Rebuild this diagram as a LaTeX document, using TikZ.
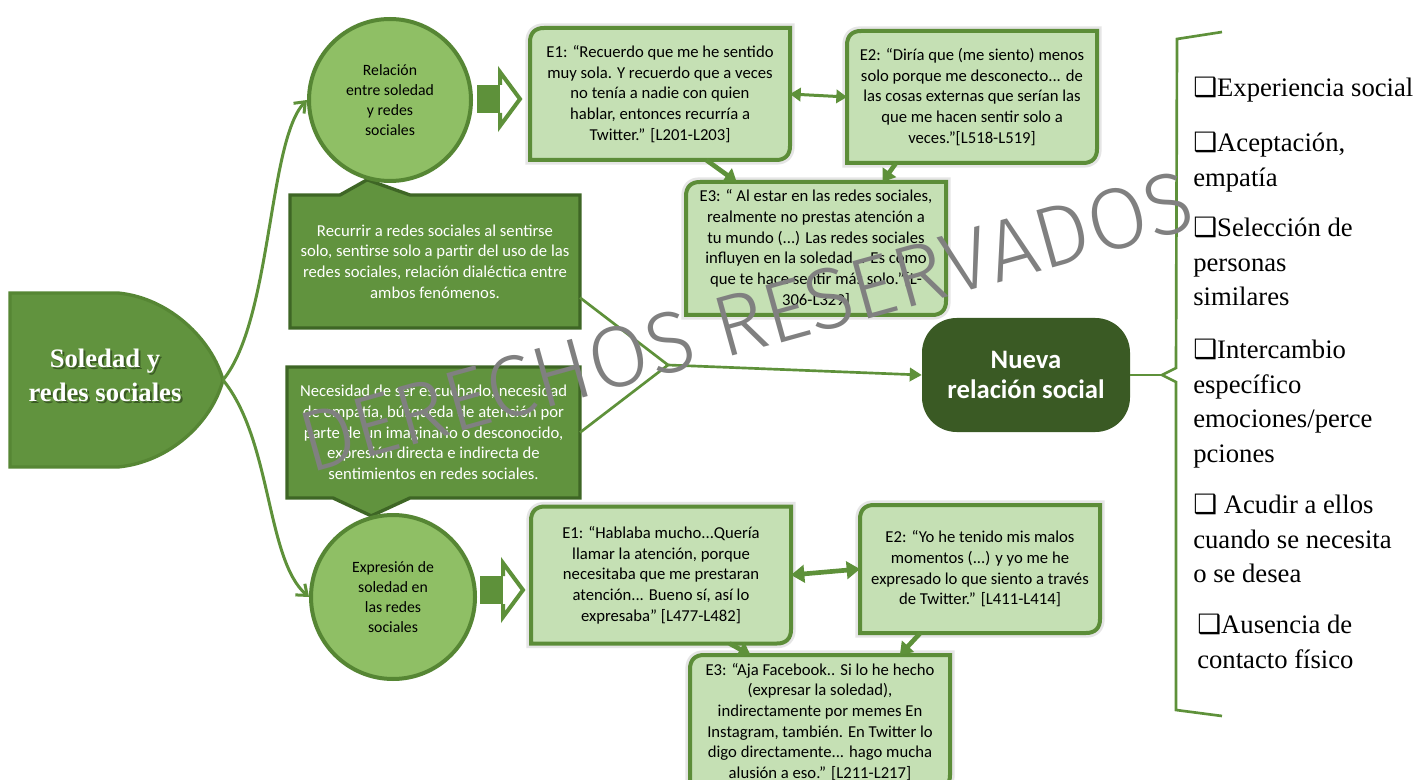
\documentclass[tikz,border=0pt]{standalone}
\usepackage{fontspec}
\setmainfont{Carlito}
\newfontfamily\serifbody{Liberation Serif}
\newfontfamily\symbfont{DejaVu Sans}
\IfFontExistsTF{Fira Sans Light}{\newfontfamily\markfont{Fira Sans Light}\def\marksize{65}}{\newfontfamily\markfont{Carlito}\def\marksize{72}}
\usetikzlibrary{arrows.meta,calc,backgrounds}
\definecolor{boxgreen}{RGB}{97,147,62}
\definecolor{boxedge}{RGB}{62,102,37}
\definecolor{circfill}{RGB}{143,191,101}
\definecolor{circedge}{RGB}{86,134,52}
\definecolor{quotefill}{RGB}{197,224,180}
\definecolor{quoteedge}{RGB}{92,141,56}
\definecolor{linkgreen}{RGB}{94,145,58}
\definecolor{darkgreen}{RGB}{58,90,36}
\definecolor{markgray}{RGB}{128,128,128}

\newcommand{\sqbox}{\strut{\symbfont ❑}}
% frame with two rounded corners (top left, bottom right)
\newcommand{\quoteframe}[1]{%
  \draw[qframe] ($(#1.north west)+(0,14)$) .. controls ($(#1.north west)+(0,5)$) and ($(#1.north west)+(5,0)$) .. ($(#1.north west)+(14,0)$) -- (#1.north east) -- ($(#1.south east)+(0,-14)$) .. controls ($(#1.south east)+(0,-5)$) and ($(#1.south east)+(-5,0)$) .. ($(#1.south east)+(-14,0)$) -- (#1.south west) -- cycle;}
% block arrow, solid shaft and hollow head
\newcommand{\blockarrow}[2]{%
  \fill[linkgreen] (#1,#2-14) rectangle (#1+23,#2+14);
  \draw[linkgreen, line width=3pt, fill=white, line join=miter] (#1+23,#2-14) -- (#1+23,#2-27) -- (#1+43,#2) -- (#1+23,#2+27) -- (#1+23,#2+14);}

\begin{document}
\begin{tikzpicture}[x=0.75pt,y=0.75pt,yscale=-1,xscale=1,
  quote/.style={align=center, inner sep=0pt, outer sep=0pt, font=\fontsize{12.5}{15.5}\selectfont},
  qframe/.style={draw=quoteedge, fill=quotefill, line width=3pt, preaction={draw=black!10, line width=7pt}},
  callout/.style={draw=boxedge, fill=boxgreen, line width=2.5pt, line join=miter},
  calltext/.style={align=center, text=white, inner sep=0pt, outer sep=0pt, font=\fontsize{12.5}{15.5}\selectfont},
  theme/.style={circle, draw=circedge, fill=circfill, line width=3pt, inner sep=0pt, align=center, font=\fontsize{11.8}{15}\selectfont},
  hub/.style={draw=circedge, fill=boxgreen, line width=2.5pt},
  hubtext/.style={align=center, inner sep=0pt, font=\serifbody\bfseries\fontsize{20}{25.5}\selectfont},
  nuevo/.style={fill=darkgreen, rounded corners=26pt, minimum width=156pt, minimum height=85.5pt, align=center, text=white, font=\bfseries\fontsize{20}{22.5}\selectfont},
  link/.style={draw=linkgreen, line width=2.25pt},
  flow/.style={draw=linkgreen, line width=3.5pt, -{Triangle[length=9pt,width=12pt]}},
  item/.style={anchor=north west, align=left, inner sep=0pt, font=\serifbody\fontsize{20}{26}\selectfont},
  watermark/.style={text=markgray, font=\markfont\fontsize{\marksize}{\marksize}\selectfont, rotate=15.5, inner sep=0pt}
]
\useasboundingbox (0,0) rectangle (1416,780);

% Main topic
\coordinate (tip) at (223,380);
\node[hubtext, text=darkgreen] (soledadsh) at (107,377) {Soledad y\\redes sociales};
\node[hubtext, text=white] (soledad) at (105,375) {Soledad y\\redes sociales};

% Themes
\node[theme, minimum size=121.5pt] (rel) at (390,100) {Relación\\entre soledad\\y redes\\sociales};
\node[theme, minimum size=123pt] (exp) at (393,597) {Expresión de\\soledad en\\las redes\\sociales};

% Callouts
\node[calltext, minimum width=217.5pt, minimum height=99.75pt] (rec1) at (435,261.5) {Recurrir a redes sociales al sentirse\\solo, sentirse solo a partir del uso de las\\redes sociales, relación dialéctica entre\\ambos fenómenos.};
\node[calltext, minimum width=219.75pt, minimum height=98.25pt] (rec2) at (433.5,432.5) {Necesidad de ser escuchado, necesidad\\de empatía, búsqueda de atención por\\parte de un imaginario o desconocido,\\expresión directa e indirecta de\\sentimientos en redes sociales.};

% Quotes, upper group
\node[quote, minimum width=195pt, minimum height=99pt] (e1) at (660,94) {E1: “Recuerdo que me he sentido\\muy sola. Y recuerdo que a veces\\no tenía a nadie con quien\\hablar, entonces recurría a\\Twitter.” [L201-L203]};
\node[quote, minimum width=187.5pt, minimum height=99pt] (e2) at (972,97) {E2: “Diría que (me siento) menos\\solo porque me desconecto... de\\las cosas externas que serían las\\que me hacen sentir solo a\\veces.”[L518-L519]};
\node[quote, minimum width=195pt, minimum height=99.75pt] (e3) at (816,248.5) {E3: “ Al estar en las redes sociales,\\realmente no prestas atención a\\tu mundo (...) Las redes sociales\\influyen en la soledad... Es como\\que te hace sentir más solo.”[L-\\306-L329]};

% Quotes, lower group
\node[quote, minimum width=195pt, minimum height=102.75pt] (e1b) at (661,575) {E1: “Hablaba mucho...Quería\\llamar la atención, porque\\necesitaba que me prestaran\\atención... Bueno sí, así lo\\expresaba” [L477-L482]};
\node[quote, minimum width=180pt, minimum height=96pt] (e2b) at (980,569) {E2: “Yo he tenido mis malos\\momentos (...) y yo me he\\expresado lo que siento a través\\de Twitter.” [L411-L414]};
\node[quote, minimum width=195pt, minimum height=100.5pt] (e3b) at (820,722) {E3: “Aja Facebook.. Si lo he hecho\\(expresar la soledad),\\indirectamente por memes En\\Instagram, también. En Twitter lo\\digo directamente... hago mucha\\alusión a eso.” [L211-L217]};

% Result
\node[nuevo] (nueva) at (1026,375) {Nueva\\relación social};

% Shapes behind the texts
\begin{scope}[on background layer]
\fill[white] (0,0) rectangle (1416,780);
\draw[hub] (10,293) -- (118,293) .. controls (170,298) and (212,340) .. (tip) .. controls (212,422) and (170,462) .. (118,467) -- (10,467) -- cycle;
\draw[callout] (rec1.north west) -- ($(rec1.north west)+(50,0)$) -- (rel.-106) -- ($(rec1.north west)+(120,0)$) -- (rec1.north east) -- (rec1.south east) -- (rec1.south west) -- cycle;
\draw[callout] (rec2.north west) -- (rec2.north east) -- (rec2.south east) -- ($(rec2.south west)+(123,0)$) -- (exp.105) -- ($(rec2.south west)+(46,0)$) -- (rec2.south west) -- cycle;
\quoteframe{e1}
\quoteframe{e2}
\quoteframe{e3}
\quoteframe{e1b}
\quoteframe{e2b}
\quoteframe{e3b}
\end{scope}

% Branches
\draw[link, -{Straight Barb[length=7pt,width=11pt]}] (tip) .. controls (272,320) and (268,140) .. (rel.west);
\draw[link, -{Straight Barb[length=7pt,width=11pt]}] (tip) .. controls (272,440) and (266,560) .. (exp.west);

\blockarrow{477}{99}
\blockarrow{480}{590}

% Links between quotes
\draw[link, {Triangle[length=8pt,width=10pt]}-{Triangle[length=8pt,width=10pt]}] (e1.east) -- (e2.west);
\draw[flow] (e1.-55) -- (e3.140);
\draw[flow] (e2.-139) -- (e3.45);
\draw[link, line width=3.5pt, {Triangle[length=10pt,width=13pt]}-{Triangle[length=10pt,width=13pt]}] (e1b.east) -- (e2b.west);
\draw[flow] (e1b.-45) -- (e3b.136);
\draw[flow] (e2b.-133) -- (e3b.40);

% Towards the new relation
\coordinate (jn) at (668,365);
\draw[link, line width=2pt] (rec1.-14) -- (jn);
\draw[link, line width=2pt] (rec2.east) -- (jn);
\draw[link, line width=2pt, -{Triangle[length=9pt,width=10pt]}] (jn) -- (nueva.west);

% Bracket and list
\coordinate (brk) at (1162,375);
\draw[link, line width=2pt] (nueva.east) -- (brk);
\draw[link, line width=2pt] (1222,32) -- (1177,39) -- (1176,368) -- (brk) -- (1176,382) -- (1176,710) -- (1222,716);

\node[item] (l1) at (1193,72) {\sqbox Experiencia social};
\node[item] (l2) at (1193,127) {\sqbox Aceptación,\\empatía};
\node[item] (l3) at (1193,212) {\sqbox Selección de\\personas\\similares};
\node[item] (l4) at (1193,334) {\sqbox Intercambio\\específico\\emociones/perce\\pciones};
\node[item] (l5) at (1193,489) {\sqbox\ Acudir a ellos\\cuando se necesita\\o se desea};
\node[item] (l6) at (1197,609) {\sqbox Ausencia de\\contacto físico};

% Watermark
\node[watermark] (marca) at (746,322) {DERECHOS RESERVADOS};

\end{tikzpicture}
\end{document}
